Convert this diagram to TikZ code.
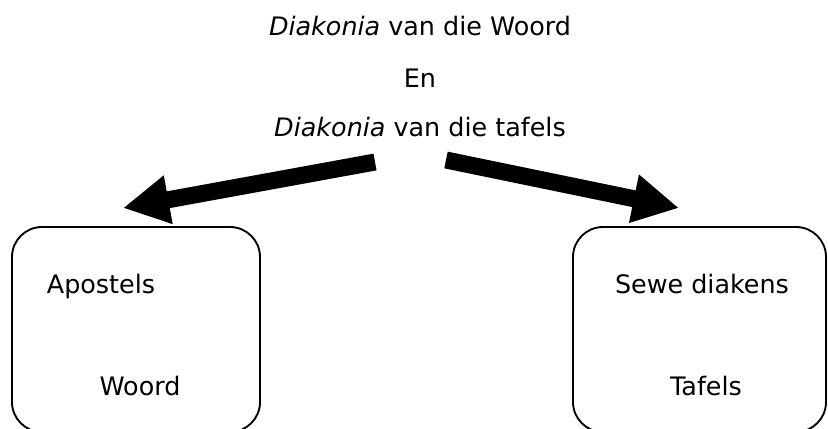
\documentclass[tikz,border=0pt]{standalone}
\usepackage{fontspec}
\setmainfont{DejaVu Sans}
\usetikzlibrary{arrows.meta, positioning}

\begin{document}
\begin{tikzpicture}[x=0.3mm, y=-0.3mm, >=Latex, thick, every node/.style={font=\fontsize{21.7}{26}\selectfont}]
    % Define styles for boxes, texts and arrows
    \tikzstyle{box} = [draw, rectangle, rounded corners=9mm, line width=1.6pt, minimum width=74.4mm, minimum height=61.5mm, inner sep=0pt]
    \tikzstyle{txt} = [anchor=base, inner sep=0pt]
    \tikzstyle{bigarrow} = [line width=5.1mm, -{Triangle[length=13.8mm, width=13.8mm]}]

    \useasboundingbox (0,0) rectangle (828,428);
    \clip (0,0) rectangle (828,428);

    % Heading lines
    \node [txt] (woordline) at (420,35) {\textit{Diakonia} van die Woord};
    \node [txt] (en) at (420,87) {En};
    \node [txt] (tafelline) at (420,136) {\textit{Diakonia} van die tafels};

    % Boxes placement
    \node [box] (woordbox) at (136,329.5) {};
    \node [box, minimum width=75.9mm] (tafelbox) at (699.5,329.5) {};

    % Texts in the boxes
    \node [txt] (apostels) at (101,293) {Apostels};
    \node [txt] (woord) at (140,395) {Woord};
    \node [txt] (diakens) at (702,293) {Sewe diakens};
    \node [txt] (tafels) at (706,395) {Tafels};

    % Arrows
    \coordinate (lefttail) at (375,162);
    \coordinate (lefttip) at (123,208);
    \coordinate (righttail) at (446,160);
    \coordinate (righttip) at (679,208);
    \draw [bigarrow] (lefttail) -- (lefttip);
    \draw [bigarrow] (righttail) -- (righttip);
\end{tikzpicture}
\end{document}
